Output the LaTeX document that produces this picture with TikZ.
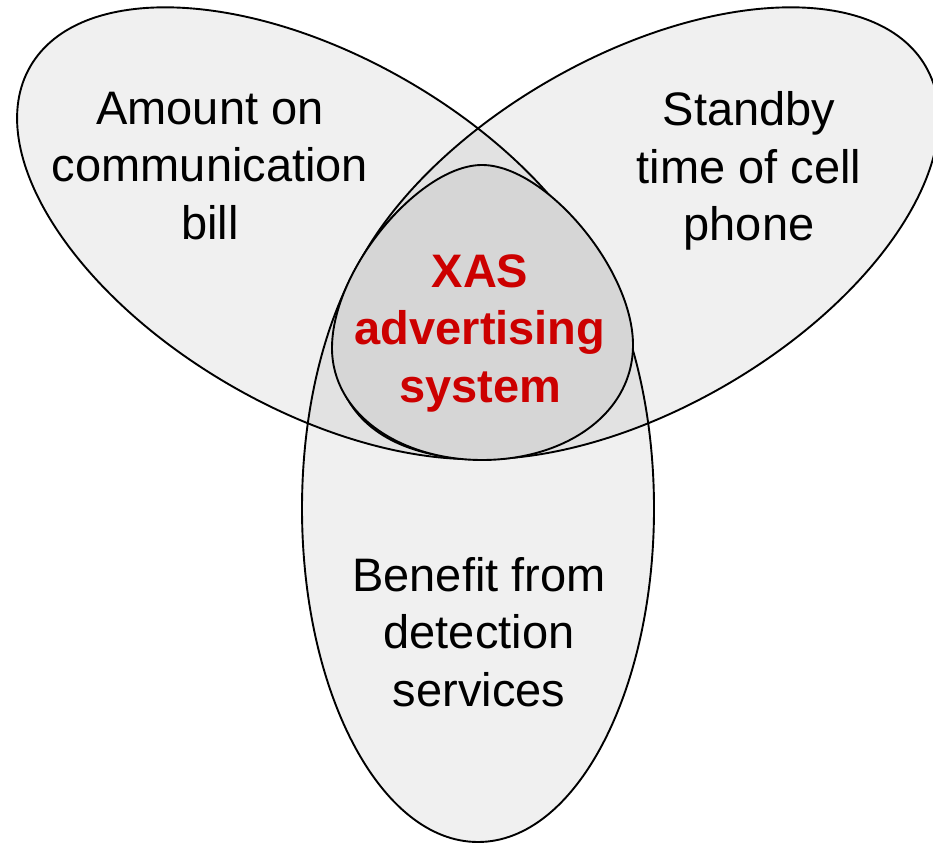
\documentclass[tikz,border=0pt]{standalone}
\usepackage{fontspec}
\setmainfont{Liberation Sans}
\usepackage{tikz}
\definecolor{xasred}{RGB}{204,0,0}
\definecolor{coregray}{RGB}{214,214,214}

\begin{document}
\begin{tikzpicture}[x=1pt,y=1pt,
      petal/.style={fill=black,fill opacity=0.06,draw=black,line width=1.9pt},
      core/.style={fill=coregray,draw=black,line width=1.9pt},
      lbl/.style={align=center,inner sep=0pt,font=\fontsize{47}{57.5}\selectfont}]
      
      \useasboundingbox (0,0) rectangle (933,844);
      
      %三个椭圆
      \coordinate (c) at (478,519);
      \foreach \a in {0,120,240}  {  
      	\filldraw[petal,rotate around={\a:(c)}] (478,335.5) ellipse [x radius=176, y radius=333.5];
      }
      
      %中间
      \filldraw[core] (482,679) .. controls (545,679) and (633,575) .. (633,499)
      	.. controls (633,430) and (565,384) .. (482,384)
      	.. controls (400,384) and (332,430) .. (332,496)
      	.. controls (332,575) and (420,679) .. (482,679) -- cycle;
      
      \node (bill) at (210,678) [lbl]{Amount on\\communication\\bill};
      \node (standby) at (749,673) [lbl]{Standby\\time of cell\\phone};
      \node (benefit) at (479,212) [lbl]{Benefit from\\detection\\services};
      \node (xas) at (480,511) [lbl,text=xasred,font=\fontsize{47}{57.5}\selectfont\bfseries]{XAS\\advertising\\system};
      
\end{tikzpicture}
\end{document}
